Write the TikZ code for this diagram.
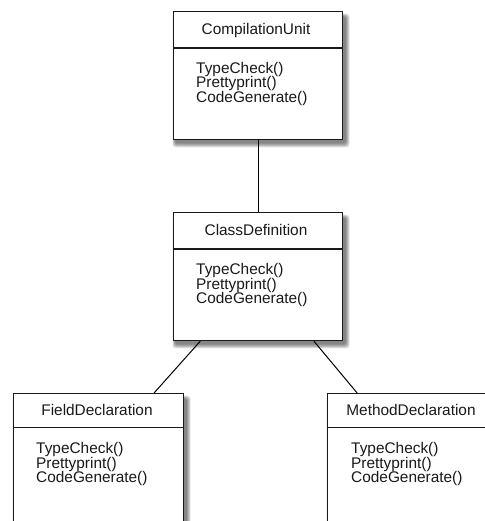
\documentclass[tikz,border=0pt]{standalone}
\usepackage{fontspec}
\setmainfont{Liberation Sans}
\usetikzlibrary{calc,backgrounds}
\tikzset{
  umlbox/.style={draw=black!90, line width=1.2pt, fill=white,
    minimum width=169pt, minimum height=128pt, anchor=north west, inner sep=0pt},
  umltitle/.style={anchor=base, inner sep=0pt, text=black!90, font=\fontsize{15.4}{15}\selectfont},
  umlop/.style={anchor=base west, inner sep=0pt, text=black!90, font=\fontsize{15.4}{15}\selectfont},
  divider/.style={draw=black!90, line width=1.1pt},
  link/.style={draw=black, line width=1pt},
  shadowlayer/.style={fill=black, opacity=0.1, rounded corners=3pt}
}
\newcommand{\boxshadow}[1]{%
  \foreach \s in {1,2,3,4,5,6}{%
    \fill[shadowlayer] ($(#1.north west)+(\s*0.5-1,\s*0.6+2)$) rectangle ($(#1.south east)+(7-\s*0.7,8-\s*0.8)$);
  }%
}
\begin{document}
\begin{tikzpicture}[x=1pt,y=-1pt]
\useasboundingbox (0,0) rectangle (484,521);
% boxes
\node[umlbox] (cu) at (173,11) {};
\node[umlbox] (cd) at (173,212) {};
\node[umlbox, minimum width=170pt, minimum height=150pt] (fd) at (13,393) {};
\node[umlbox, minimum width=170pt, minimum height=150pt] (md) at (327,393) {};
% dividers
\draw[divider] (173,48) -- (342,48);
\draw[divider] (173,249) -- (342,249);
\draw[divider] (13,427.5) -- (183,427.5);
\draw[divider] (327,427.5) -- (497,427.5);
% titles
\node[umltitle] (cut) at (256,34.5) {CompilationUnit};
\node[umltitle] (cdt) at (256,235.5) {ClassDefinition};
\node[umltitle] (fdt) at (97,415.5) {FieldDeclaration};
\node[umltitle] (mdt) at (411,415.5) {MethodDeclaration};
% operations
\node[umlop] (cu1) at (196,73.5) {TypeCheck()};
\node[umlop] (cu2) at (196,88) {Prettyprint()};
\node[umlop] (cu3) at (196,102.5) {CodeGenerate()};
\node[umlop] (cd1) at (196,274.5) {TypeCheck()};
\node[umlop] (cd2) at (196,289) {Prettyprint()};
\node[umlop] (cd3) at (196,303.5) {CodeGenerate()};
\node[umlop] (fd1) at (36,453.5) {TypeCheck()};
\node[umlop] (fd2) at (36,468) {Prettyprint()};
\node[umlop] (fd3) at (36,482.5) {CodeGenerate()};
\node[umlop] (md1) at (351,453.5) {TypeCheck()};
\node[umlop] (md2) at (351,468) {Prettyprint()};
\node[umlop] (md3) at (351,482.5) {CodeGenerate()};
% shadows and connectors
\begin{scope}[on background layer]
\draw[link] (cu.south) -- (cd.north);
\draw[link] ($(cd.south west)!0.16!(cd.south east)$) -- ($(fd.north west)!0.824!(fd.north east)$);
\draw[link] ($(cd.south west)!0.828!(cd.south east)$) -- ($(md.north west)!0.176!(md.north east)$);
\boxshadow{cu}
\boxshadow{cd}
\boxshadow{fd}
\boxshadow{md}
\end{scope}
\end{tikzpicture}
\end{document}
